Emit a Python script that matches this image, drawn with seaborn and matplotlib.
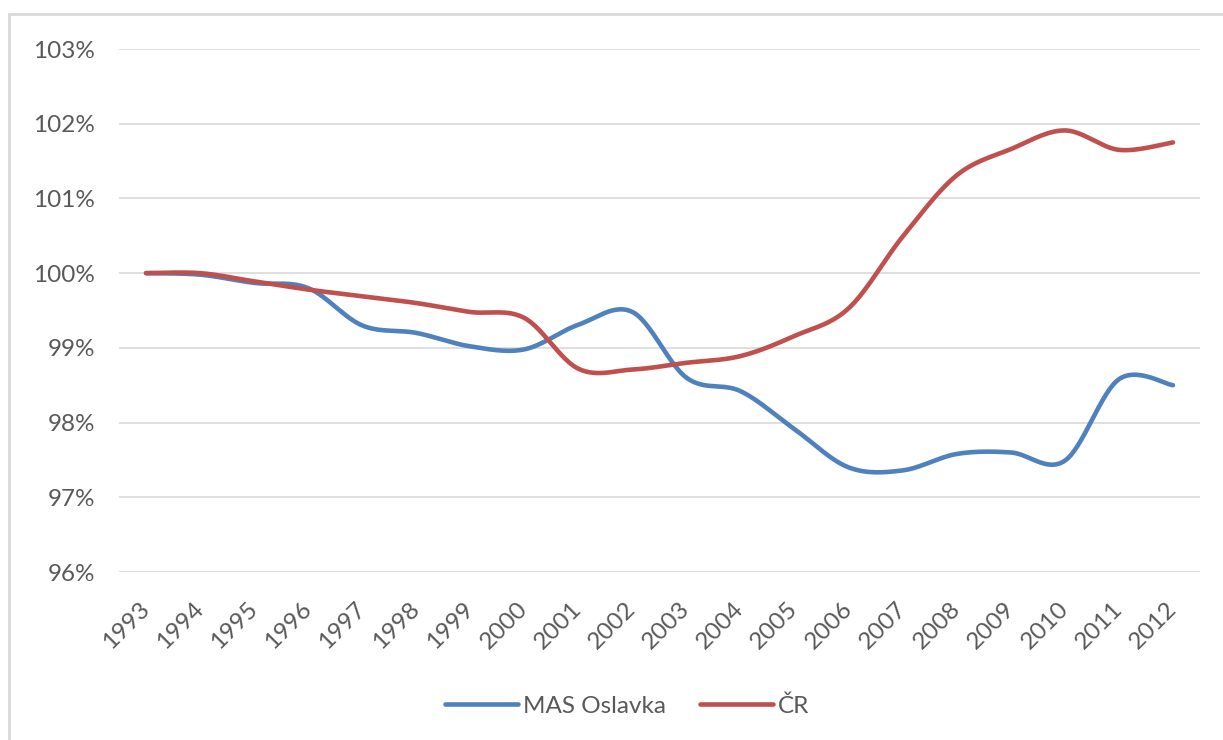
import numpy as np
import pandas as pd
import matplotlib
matplotlib.use("Agg")
import matplotlib.pyplot as plt
from matplotlib.lines import Line2D
import seaborn as sns

years = ["1993", "1994", "1995", "1996", "1997", "1998", "1999", "2000", "2001", "2002",
         "2003", "2004", "2005", "2006", "2007", "2008", "2009", "2010", "2011", "2012"]
mas_oslavka = [100.0, 99.98, 99.87, 99.80, 99.30, 99.20, 99.02, 98.98, 99.31, 99.48,
               98.60, 98.42, 97.91, 97.40, 97.36, 97.58, 97.60, 97.49, 98.58, 98.50]
cr = [100.0, 100.0, 99.89, 99.78, 99.69, 99.60, 99.48, 99.40, 98.72, 98.71,
      98.80, 98.89, 99.16, 99.53, 100.49, 101.31, 101.66, 101.91, 101.65, 101.75]
series_names = ["MAS Oslavka", "ČR"]
colors = ["#4F81BD", "#C0504D"]
y_ticks = [96, 97, 98, 99, 100, 101, 102, 103]


def smooth(xs, ys, n=30):
    """Excel-like smoothed line (Catmull-Rom Bezier segments)."""
    P = np.column_stack([xs, ys]).astype(float)
    P = np.vstack([P[0], P, P[-1]])
    out = []
    t = np.linspace(0, 1, n)[:, None]
    for i in range(1, len(P) - 2):
        p0, p3 = P[i], P[i + 1]
        c1 = p0 + (P[i + 1] - P[i - 1]) / 6.0
        c2 = p3 - (P[i + 2] - P[i]) / 6.0
        seg = ((1 - t) ** 3) * p0 + 3 * ((1 - t) ** 2) * t * c1 + 3 * (1 - t) * t ** 2 * c2 + t ** 3 * p3
        out.append(seg if i == 1 else seg[1:])
    seg = np.vstack(out)
    return seg[:, 0], seg[:, 1]


frames = []
idx = np.arange(len(years))
for name, vals in zip(series_names, [mas_oslavka, cr]):
    sx, sy = smooth(idx, vals)
    frames.append(pd.DataFrame({"x": sx, "y": sy, "series": name}))
df = pd.concat(frames, ignore_index=True)

sns.set_theme(style="white")
plt.rcParams["font.family"] = ["Lato", "DejaVu Sans"]

W, H = 1223, 740
fig = plt.figure(figsize=(W / 100, H / 100), dpi=100)
ax = fig.add_axes([119 / W, 1 - 572 / H, (1200 - 119) / W, (572 - 49) / H])

sns.lineplot(data=df, x="x", y="y", hue="series", palette=colors, sort=False,
             estimator=None, units="series", linewidth=3.3, ax=ax, legend=False,
             solid_capstyle="round")

ax.set_xlim(-0.5, len(years) - 0.5)
ax.set_ylim(96, 103)
ax.set_yticks(y_ticks)
ax.set_yticklabels([f"{v}%" for v in y_ticks])
ax.set_xticks(idx)
ax.set_xticklabels(years, rotation=45, ha="right", va="center", rotation_mode="anchor")
ax.set_xlabel("")
ax.set_ylabel("")
ax.grid(axis="y", color="#D9D9D9", linewidth=1.2)
ax.grid(axis="x", visible=False)
ax.set_axisbelow(True)
for s in ax.spines.values():
    s.set_visible(False)
ax.tick_params(axis="y", length=0, pad=17, labelsize=17.5, labelcolor="#595959")
ax.tick_params(axis="x", length=0, pad=24, labelsize=17.5, labelcolor="#595959")

handles = [Line2D([0], [0], color=c, lw=3.3, solid_capstyle="round") for c in colors]
leg = fig.legend(handles, series_names, loc="center", bbox_to_anchor=(627 / W, 1 - 706 / H),
                 ncol=2, frameon=False, fontsize=17.5, handlelength=3.0, handletextpad=0.2,
                 columnspacing=1.4, labelcolor="#595959")

# chart area border (light gray)
fig.add_artist(Line2D([9 / W, 1], [1 - 14 / H, 1 - 14 / H], color="#D9D9D9", lw=2))
fig.add_artist(Line2D([9 / W, 9 / W], [0, 1 - 14 / H], color="#D9D9D9", lw=2))

fig.savefig("out.png", dpi=100, facecolor="white")
